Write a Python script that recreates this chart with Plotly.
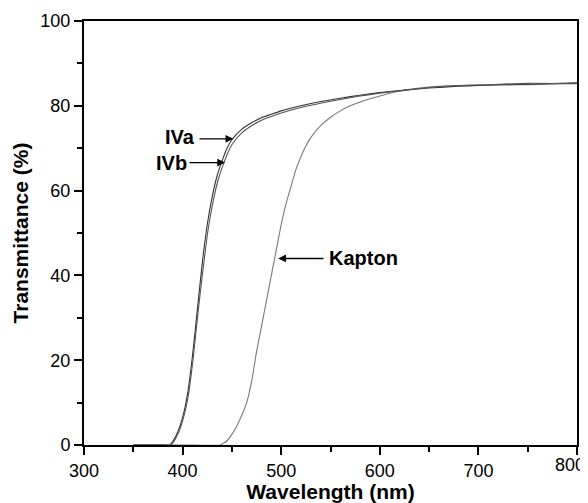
import plotly.graph_objects as go

# Data
wl_iva = [350, 380, 387, 390, 395, 400, 405, 410, 415, 420, 425, 430, 435, 440, 445, 450,
          460, 470, 480, 490, 500, 520, 540, 560, 580, 600, 620, 650, 680, 700, 750, 800]
t_iva = [0, 0, 0, 0.8, 3, 6.5, 12, 21, 32, 43, 52, 58.5, 63.5, 67, 70, 72,
         74.5, 76, 77.2, 78, 78.8, 80, 81, 81.8, 82.5, 83.1, 83.6, 84.2, 84.6, 84.8, 85.1, 85.4]

wl_ivb = [350, 380, 388, 391, 396, 401, 406, 411, 416, 421, 426, 431, 436, 441, 446, 450,
          460, 470, 480, 490, 500, 520, 540, 560, 580, 600, 620, 650, 680, 700, 750, 800]
t_ivb = [0, 0, 0, 0.8, 3, 6.5, 12, 21, 32, 42, 51, 57.5, 62.5, 66, 69, 70.8,
         73.6, 75.3, 76.6, 77.5, 78.3, 79.6, 80.6, 81.5, 82.3, 83, 83.5, 84.3, 84.8, 84.9, 85.3, 85.2]

wl_kapton = [350, 400, 438, 441, 445, 450, 455, 460, 465, 470, 475, 480, 485, 490, 495, 500,
             505, 510, 515, 520, 525, 530, 540, 550, 560, 570, 580, 600, 620, 640, 660, 700, 750, 800]
t_kapton = [0, 0, 0, 0.4, 1, 2.5, 4.5, 7, 10, 15, 22, 28, 34, 40, 46, 52,
            57, 61, 65, 68, 70.5, 72.5, 75.3, 77.3, 78.8, 80, 80.9, 82.3, 83.5, 84.2, 84.6, 84.9, 85, 85.3]

x_ticks = [300, 400, 500, 600, 700, 800]
x_tick_labels = ["300", "400", "500", "600", "700", "800"]
y_ticks = [0, 20, 40, 60, 80, 100]

FONT = "Liberation Sans, Arial, sans-serif"

fig = go.Figure()
fig.add_trace(go.Scatter(x=wl_kapton, y=t_kapton, mode="lines", name="Kapton",
                         line=dict(color="#7a7a7a", width=1.1, shape="spline", smoothing=0.6)))
fig.add_trace(go.Scatter(x=wl_iva, y=t_iva, mode="lines", name="IVa",
                         line=dict(color="#333333", width=1.1, shape="spline", smoothing=0.6)))
fig.add_trace(go.Scatter(x=wl_ivb, y=t_ivb, mode="lines", name="IVb",
                         line=dict(color="#555555", width=1.1, shape="spline", smoothing=0.6)))

label_font = dict(family=FONT, size=20, color="black")
anns = [
    # IVa
    dict(x=451.4, y=72.2, ax=415.6, ay=72.2, text=""),
    # IVb
    dict(x=443, y=66.6, ax=405.5, ay=66.6, text=""),
    # Kapton
    dict(x=497, y=44, ax=544.4, ay=44, text=""),
]
for a in anns:
    fig.add_annotation(xref="x", yref="y", axref="x", ayref="y", showarrow=True,
                       arrowhead=2, arrowsize=1.1, arrowwidth=1.4, arrowcolor="black",
                       standoff=0, startstandoff=0, **a)
fig.add_annotation(x=414.5, y=72.6, xref="x", yref="y", text="<b>IVa</b>", showarrow=False,
                   xanchor="right", font=label_font)
fig.add_annotation(x=405.5, y=66.5, xref="x", yref="y", text="<b>IVb</b>", showarrow=False,
                   xanchor="right", font=label_font, xshift=1)
fig.add_annotation(x=546, y=44, xref="x", yref="y", text="<b>Kapton</b>", showarrow=False,
                   xanchor="left", font=label_font)

# last x tick label drawn as an annotation so it stays inside the window (as in the reference)
fig.add_annotation(x=x_ticks[-1], y=0, xref="x", yref="paper", text=x_tick_labels[-1],
                   showarrow=False, xanchor="right", yanchor="top", xshift=10, yshift=-8,
                   font=dict(family=FONT, size=18, color="black"))

axis_common = dict(showline=True, linecolor="black", linewidth=2, mirror=True,
                   ticks="outside", ticklen=8, tickwidth=2, tickcolor="black",
                   showgrid=False, zeroline=False, automargin=False,
                   ticklabeloverflow="allow",
                   tickfont=dict(family=FONT, size=18, color="black"))
fig.update_xaxes(range=[300, 800], tickvals=x_ticks, ticktext=x_tick_labels[:-1] + [""],
                 minor=dict(ticks="outside", ticklen=5, tickwidth=2, tickcolor="black", dtick=50, tick0=300),
                 title=dict(text="<b>Wavelength (nm)</b>", font=dict(family=FONT, size=21, color="black"),
                            standoff=6),
                 **axis_common)
fig.update_yaxes(range=[0, 100], tickvals=y_ticks, ticktext=[str(v) for v in y_ticks],
                 minor=dict(ticks="outside", ticklen=5, tickwidth=2, tickcolor="black", dtick=10, tick0=0),
                 title=dict(text="<b>Transmittance (%)</b>", font=dict(family=FONT, size=21, color="black"),
                            standoff=6),
                 **axis_common)

# the page body adds an 8px offset, so the figure is 8px smaller on each side
fig.update_layout(width=580, height=495, margin=dict(l=76, r=11, t=13, b=58),
                  paper_bgcolor="white", plot_bgcolor="white", showlegend=False)

fig.write_html("out.html")
